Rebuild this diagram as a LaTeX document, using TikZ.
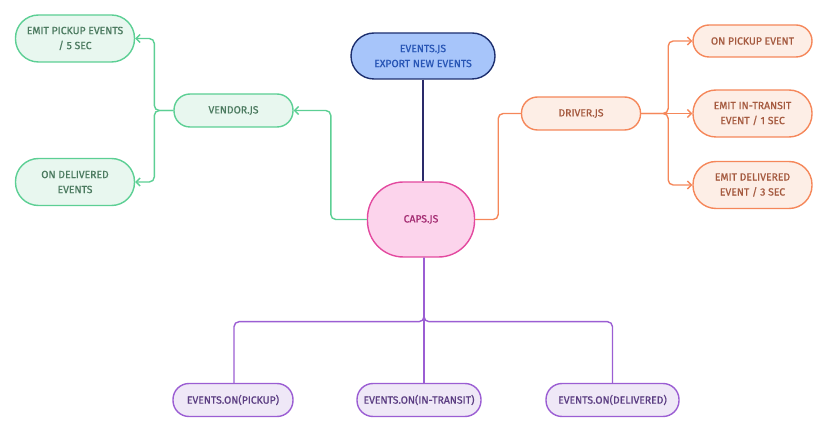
\documentclass[tikz,border=0pt]{standalone}
\usepackage{fontspec}
\setmainfont{Fira Sans}
\newfontface\semib{Fira Sans}[FakeBold=0.9]
\usetikzlibrary{arrows.meta}
\definecolor{gstroke}{HTML}{5CCF94}
\definecolor{gfill}{HTML}{E8F7EF}
\definecolor{gtext}{HTML}{4B7A5F}
\definecolor{bstroke}{HTML}{1D2F6F}
\definecolor{bfill}{HTML}{A7C5FA}
\definecolor{btext}{HTML}{2755B5}
\definecolor{pstroke}{HTML}{E3499F}
\definecolor{pfill}{HTML}{FCD4EC}
\definecolor{ptext}{HTML}{A32C72}
\definecolor{ostroke}{HTML}{F5875A}
\definecolor{ofill}{HTML}{FDEEE6}
\definecolor{otext}{HTML}{A55A3F}
\definecolor{vstroke}{HTML}{9B5ED3}
\definecolor{vfill}{HTML}{EFE8F7}
\definecolor{vtext}{HTML}{5B3D82}
\definecolor{navy}{HTML}{2A2A6A}
\begin{document}
\begin{tikzpicture}[x=1pt,y=-1pt,
  base/.style={draw, line width=1.4pt, align=center, inner sep=0pt, font=\semib\fontsize{10.4}{15}\selectfont},
  gbox/.style={base, draw=gstroke, fill=gfill, text=gtext, minimum width=119pt},
  obox/.style={base, draw=ostroke, fill=ofill, text=otext, minimum width=119pt},
  vbox/.style={base, draw=vstroke, fill=vfill, text=vtext, minimum height=33pt, rounded corners=16pt},
  tall/.style={minimum height=47pt, rounded corners=23pt},
  short/.style={minimum height=33pt, rounded corners=16pt},
  gline/.style={draw=gstroke, line width=1.4pt, rounded corners=5pt},
  oline/.style={draw=ostroke, line width=1.4pt, rounded corners=5pt},
  vline/.style={draw=vstroke, line width=1.4pt, rounded corners=5pt},
  tip/.style={-{Straight Barb[length=4pt,width=8pt]}}
]
\useasboundingbox (0,0) rectangle (833,430);
% nodes
\node[gbox,tall] (emitpick) at (75,38.5) {EMIT PICKUP EVENTS\\/ 5 SEC};
\node[gbox,tall] (ondeliv) at (75,182) {ON DELIVERED\\EVENTS};
\node[gbox,short] (vendor) at (233.5,110.5) {VENDOR.JS};
\node[base, draw=bstroke, fill=bfill, text=btext, minimum width=144pt, minimum height=46pt, rounded corners=23pt] (events) at (423,56) {EVENTS.JS\\EXPORT NEW EVENTS};
\node[base, draw=pstroke, fill=pfill, text=ptext, minimum width=107pt, minimum height=75pt, rounded corners=36pt] (caps) at (421,219.5) {CAPS.JS};
\node[obox,short] (driver) at (581,113.5) {DRIVER.JS};
\node[obox,minimum height=32pt, rounded corners=16pt] (onpick) at (752.5,41) {ON PICKUP EVENT};
\node[obox,tall] (transit) at (752.5,113.5) {EMIT IN-TRANSIT\\EVENT / 1 SEC};
\node[obox,tall] (emitdeliv) at (752.5,185) {EMIT DELIVERED\\EVENT / 3 SEC};
\node[vbox, minimum width=120pt] (onpickup) at (233,400) {EVENTS.ON(PICKUP)};
\node[vbox, minimum width=124pt] (onintransit) at (419,400) {EVENTS.ON(IN-TRANSIT)};
\node[vbox, minimum width=133pt] (ondelivered) at (612.5,400) {EVENTS.ON(DELIVERED)};
% connectors
\draw[navy, line width=1.4pt] (events.south) -- (events.south |- caps.north);
\draw[gline,tip] (caps.west) -- ++(-36,0) |- (vendor.east);
\draw[gline,tip] (vendor.west) -- ++(-19,0) |- (emitpick.east);
\draw[gline,tip] (vendor.west) -- ++(-19,0) |- (ondeliv.east);
\draw[oline] (caps.east) -- ++(23,0) |- (driver.west);
\draw[oline,tip] (driver.east) -- ++(27,0) |- (onpick.west);
\draw[oline,tip] (driver.east) -- (transit.west);
\draw[oline,tip] (driver.east) -- ++(27,0) |- (emitdeliv.west);
\coordinate (split) at ([xshift=3pt]caps.south);
\draw[vline] (split) -- ++(0,64) -| ([xshift=1pt]onpickup.north);
\draw[vline] (split) -- ++(0,64) -| (ondelivered.north);
\draw[vline] (split) -- (split |- onintransit.north);
\end{tikzpicture}
\end{document}
